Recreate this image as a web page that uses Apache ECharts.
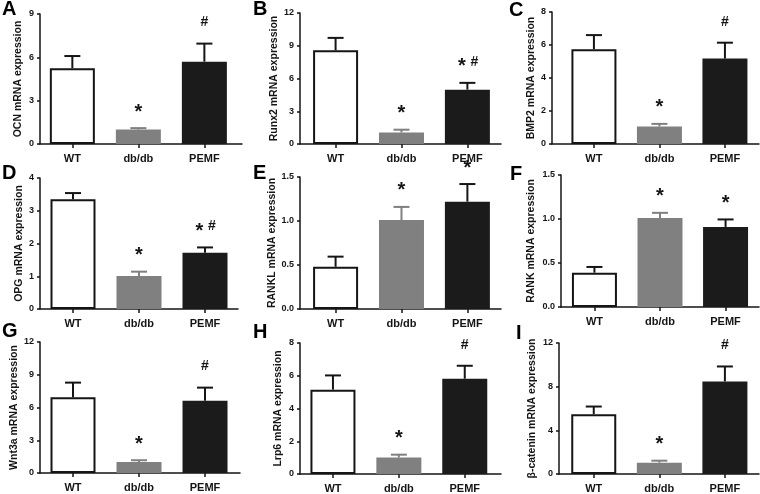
<!DOCTYPE html>
<html>
<head>
<meta charset="utf-8">
<title>mRNA expression</title>
<script src="https://cdn.jsdelivr.net/npm/echarts@6/dist/echarts.min.js"></script>
</head>
<body style="margin:0;background:#fff">
<div id="main" style="width:760px;height:494px;"></div>
<script>
// data (mean and upper SEM)
var groups = ['WT', 'db/db', 'PEMF'];
var letters = ['A', 'B', 'C', 'D', 'E', 'F', 'G', 'H', 'I'];
var yNames = ['OCN mRNA expression', 'Runx2 mRNA expression', 'BMP2 mRNA expression',
    'OPG mRNA expression', 'RANKL mRNA expression', 'RANK mRNA expression',
    'Wnt3a mRNA expression', 'Lrp6 mRNA expression', 'β-catenin mRNA expression'];
var means = [
    [5.25, 1.0, 5.7],
    [8.58, 1.06, 4.98],
    [5.75, 1.06, 5.18],
    [3.35, 1.01, 1.72],
    [0.48, 1.01, 1.22],
    [0.39, 1.01, 0.91],
    [6.94, 1.01, 6.62],
    [5.15, 1.01, 5.82],
    [5.48, 1.04, 8.48]
];
var sems = [
    [0.84, 0.1, 1.25],
    [1.14, 0.25, 0.62],
    [0.85, 0.16, 0.96],
    [0.19, 0.13, 0.16],
    [0.115, 0.15, 0.2],
    [0.065, 0.06, 0.085],
    [1.34, 0.16, 1.2],
    [0.87, 0.17, 0.79],
    [0.7, 0.18, 1.37]
];
var marks = [
    ['', '*', '#'],
    ['', '*', '* #'],
    ['', '*', '#'],
    ['', '*', '* #'],
    ['', '*', '*'],
    ['', '*', '*'],
    ['', '*', '#'],
    ['', '*', '#'],
    ['', '*', '#']
];
var yMax = [9, 12, 8, 4, 1.5, 1.5, 12, 8, 12];
var yStep = [3, 3, 2, 1, 0.5, 0.5, 3, 2, 4];

// panel placement (pixels)
var boxes = [
    {left: 40, top: 14, width: 202, height: 130, xmin: -0.49, xmax: 2.57, gap: 16},
    {left: 300, top: 13, width: 201, height: 131, xmin: -0.54, xmax: 2.51, gap: 20},
    {left: 552, top: 12, width: 207, height: 132, xmin: -0.64, xmax: 2.52, gap: 10},
    {left: 40, top: 178, width: 198, height: 131, xmin: -0.5, xmax: 2.5, gap: 15},
    {left: 300, top: 177, width: 201, height: 132, xmin: -0.54, xmax: 2.51, gap: 19},
    {left: 561, top: 175, width: 198, height: 132, xmin: -0.51, xmax: 2.51, gap: 24},
    {left: 40, top: 342, width: 200, height: 131, xmin: -0.5, xmax: 2.53, gap: 17},
    {left: 300, top: 343, width: 201, height: 131, xmin: -0.5, xmax: 2.55, gap: 16},
    {left: 559, top: 343, width: 200, height: 131, xmin: -0.53, xmax: 2.52, gap: 21}
];
var letterPos = [[2, -1], [253, -1], [509, 0], [2, 163], [253, 163], [510, 164], [2, 321], [253, 322], [516, 323]];

var font = 'Liberation Sans, Arial, sans-serif';
var ink = '#151515';
var barStyles = [
    {color: '#ffffff', borderColor: ink, borderWidth: 2},
    {color: '#808080'},
    {color: '#1b1b1b'}
];
var errColors = [ink, '#808080', ink];

var grids = [], xAxes = [], yAxes = [], series = [], graphics = [];

boxes.forEach(function (b, p) {
    grids.push({left: b.left, top: b.top, width: b.width, height: b.height});
    xAxes.push({
        type: 'value', gridIndex: p, min: b.xmin, max: b.xmax,
        splitLine: {show: false},
        axisLine: {show: true, onZero: false, lineStyle: {color: ink, width: 1.5}},
        axisTick: {show: true, length: 4, customValues: [0, 1, 2], lineStyle: {color: ink, width: 1.5}},
        axisLabel: {
            customValues: [0, 1, 2], margin: 9,
            color: ink, fontFamily: font, fontWeight: 'bold', fontSize: 11,
            formatter: function (v) { return groups[Math.round(v)]; }
        }
    });
    yAxes.push({
        type: 'value', gridIndex: p, min: 0, max: yMax[p], interval: yStep[p],
        name: yNames[p], nameLocation: 'middle', nameGap: b.gap,
        nameTextStyle: {color: ink, fontFamily: font, fontSize: 10.5, fontWeight: 'bold'},
        splitLine: {show: false},
        axisLine: {show: true, onZero: false, lineStyle: {color: ink, width: 1.5}},
        axisTick: {show: true, length: 3, lineStyle: {color: ink, width: 1.5}},
        axisLabel: {
            margin: 6, color: ink, fontFamily: font, fontWeight: 'bold', fontSize: 9,
            formatter: function (v) { return yStep[p] < 1 ? v.toFixed(1) : String(v); }
        }
    });
    series.push({
        type: 'bar', xAxisIndex: p, yAxisIndex: p, barWidth: 45,
        data: groups.map(function (g, i) {
            return {value: [i, means[p][i]], itemStyle: barStyles[i]};
        })
    });
    series.push({
        type: 'custom', xAxisIndex: p, yAxisIndex: p, z: 5,
        data: groups.map(function (g, i) { return [i, means[p][i], sems[p][i]]; }),
        renderItem: function (params, api) {
            var i = api.value(0), m = api.value(1), s = api.value(2);
            var base = api.coord([i, m]);
            var top = api.coord([i, m + s]);
            var col = errColors[i];
            var kids = [
                {type: 'line', shape: {x1: base[0], y1: base[1], x2: top[0], y2: top[1]},
                    style: {stroke: col, lineWidth: 2}},
                {type: 'line', shape: {x1: top[0] - 8, y1: top[1], x2: top[0] + 8, y2: top[1]},
                    style: {stroke: col, lineWidth: 2}}
            ];
            var toks = marks[p][i] ? marks[p][i].split(' ') : [];
            var offs = toks.length === 2 ? [-5.5, 7] : [0];
            toks.forEach(function (t, k) {
                var star = t === '*';
                kids.push({
                    type: 'text',
                    x: top[0] + offs[k],
                    y: star ? top[1] - 16 : top[1] - 21,
                    style: {
                        text: t, fill: ink, fontFamily: font, fontWeight: 'bold',
                        fontSize: star ? 20 : 14, align: 'center', verticalAlign: 'middle'
                    }
                });
            });
            return {type: 'group', children: kids};
        }
    });
    graphics.push({
        type: 'text', left: letterPos[p][0], top: letterPos[p][1],
        style: {text: letters[p], fill: '#000', font: 'bold 20px ' + font}
    });
});

var myChart = echarts.init(document.getElementById('main'));
myChart.setOption({
    animation: false,
    backgroundColor: '#fff',
    grid: grids,
    xAxis: xAxes,
    yAxis: yAxes,
    series: series,
    graphic: graphics
});
</script>
</body>
</html>
